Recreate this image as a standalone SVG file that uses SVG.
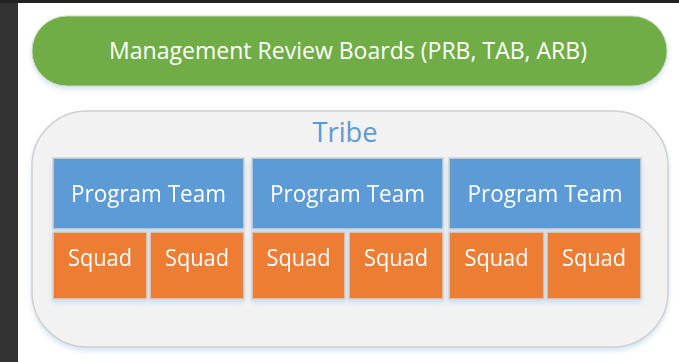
<svg xmlns="http://www.w3.org/2000/svg" width="679" height="362" viewBox="0 0 679 362">
<defs>
<filter id="sh" x="-10%" y="-10%" width="120%" height="130%">
<feDropShadow dx="0" dy="3" stdDeviation="2.5" flood-color="#9dc3e6" flood-opacity="0.45"/>
</filter>
</defs>
<style>
.t{font-family:"Open Sans","Liberation Sans",sans-serif;fill:#ffffff;text-anchor:middle}
.pt{fill:#5b9bd5;stroke:#d4d4d4;stroke-width:1.5}
.sq{fill:#ed7d31;stroke:#d4d4d4;stroke-width:1.5}
.lbl{font-size:23px}
</style>
<rect x="0" y="0" width="679" height="362" fill="#ffffff"/>
<rect x="0" y="0" width="18" height="362" fill="#333333"/>
<rect x="0" y="0" width="679" height="3" fill="#222222"/>
<g id="management">
<rect x="32" y="16" width="635" height="70" rx="35" ry="35" fill="#70ad47" stroke="#c9d9bd" stroke-width="1" filter="url(#sh)"/>
<text class="t" x="348" y="59" font-size="23" textLength="478" lengthAdjust="spacingAndGlyphs">Management Review Boards (PRB, TAB, ARB)</text>
</g>
<g id="tribe">
<rect x="32" y="111" width="636" height="236" rx="55" ry="55" fill="#f2f2f2" stroke="#d0d0d0" stroke-width="1.5" filter="url(#sh)"/>
<text x="345" y="142" font-family="Open Sans, Liberation Sans, sans-serif" font-size="27" fill="#5b9bd5" text-anchor="middle" textLength="65" lengthAdjust="spacingAndGlyphs">Tribe</text>
</g>
<g id="team1" filter="url(#sh)">
<rect class="pt" x="53" y="158" width="191" height="71"/>
<text class="t lbl" x="148.5" y="202" textLength="155" lengthAdjust="spacingAndGlyphs">Program Team</text>
</g>
<g id="squad1" filter="url(#sh)">
<rect class="sq" x="53" y="232" width="94" height="67"/>
<text class="t lbl" x="100" y="266" textLength="64" lengthAdjust="spacingAndGlyphs">Squad</text>
</g>
<g id="squad2" filter="url(#sh)">
<rect class="sq" x="150" y="232" width="94" height="67"/>
<text class="t lbl" x="197" y="266" textLength="64" lengthAdjust="spacingAndGlyphs">Squad</text>
</g>
<g id="team2" filter="url(#sh)">
<rect class="pt" x="252" y="158" width="191" height="71"/>
<text class="t lbl" x="347.5" y="202" textLength="155" lengthAdjust="spacingAndGlyphs">Program Team</text>
</g>
<g id="squad3" filter="url(#sh)">
<rect class="sq" x="252" y="232" width="93" height="67"/>
<text class="t lbl" x="298.5" y="266" textLength="64" lengthAdjust="spacingAndGlyphs">Squad</text>
</g>
<g id="squad4" filter="url(#sh)">
<rect class="sq" x="349" y="232" width="94" height="67"/>
<text class="t lbl" x="396" y="266" textLength="64" lengthAdjust="spacingAndGlyphs">Squad</text>
</g>
<g id="team3" filter="url(#sh)">
<rect class="pt" x="449" y="158" width="192" height="71"/>
<text class="t lbl" x="545" y="202" textLength="155" lengthAdjust="spacingAndGlyphs">Program Team</text>
</g>
<g id="squad5" filter="url(#sh)">
<rect class="sq" x="449" y="232" width="95" height="67"/>
<text class="t lbl" x="496.5" y="266" textLength="64" lengthAdjust="spacingAndGlyphs">Squad</text>
</g>
<g id="squad6" filter="url(#sh)">
<rect class="sq" x="547" y="232" width="94" height="67"/>
<text class="t lbl" x="594" y="266" textLength="64" lengthAdjust="spacingAndGlyphs">Squad</text>
</g>
<g id="connectors"/>
</svg>
